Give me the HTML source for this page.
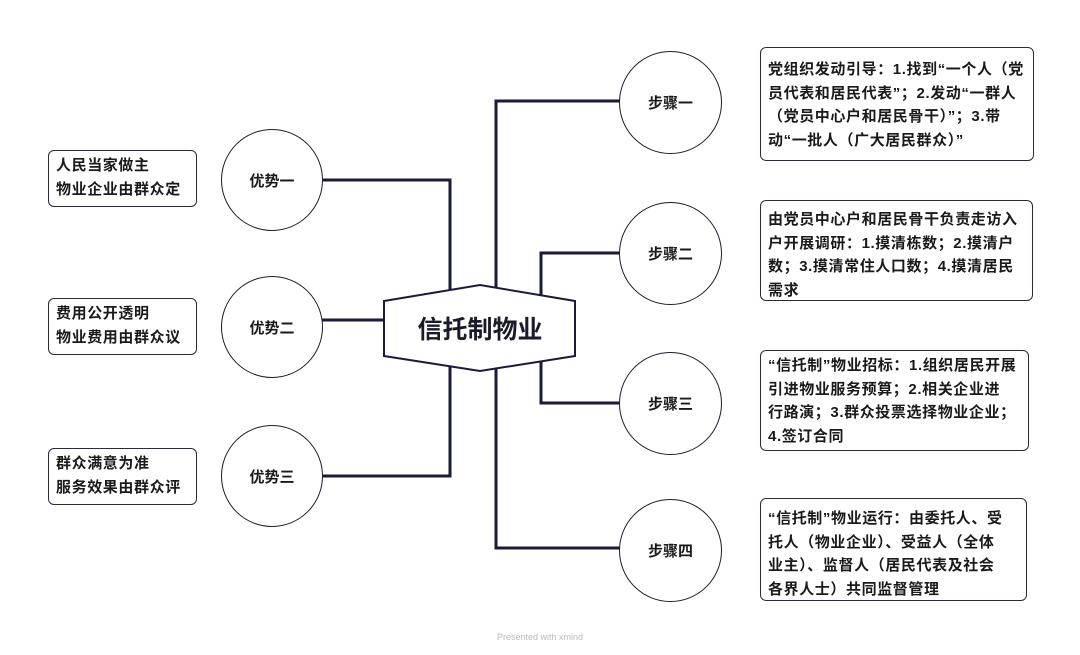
<!DOCTYPE html>
<html><head><meta charset="utf-8"><style>
body{margin:0;width:1080px;height:655px;background:#fff;position:relative;overflow:hidden;font-family:"Liberation Sans","Noto Sans CJK SC",sans-serif;color:#1a1a1a}
.c{position:absolute;border:1.5px solid #1c1c2e;border-radius:50%;background:#fff;box-sizing:border-box;display:flex;align-items:center;justify-content:center;font-weight:bold;font-size:15px}
.b{position:absolute;border:1.5px solid #2a2a3a;border-radius:6px;background:#fff;box-sizing:border-box;font-weight:bold;font-size:15px;letter-spacing:0.6px;line-height:23.5px;padding:5px 7px;white-space:nowrap}
</style></head><body>
<svg width="1080" height="655" style="position:absolute;left:0;top:0">
<g stroke="#1a1a3a" stroke-width="3" fill="none">
<polyline points="322,180 450,180 450,476 322,476"/>
<line x1="322" y1="320" x2="385" y2="320"/>
<polyline points="620,101 496,101 496,548 620,548"/>
<polyline points="620,253 541,253 541,403 620,403"/>
</g>
<polygon points="384,301 480,285 575,301 575,356 480,371 384,356" fill="#fff" stroke="#1a1a3a" stroke-width="2"/>
<text x="480" y="338" text-anchor="middle" font-size="25" font-weight="bold" fill="#1a1a2a" font-family="Liberation Sans,Noto Sans CJK SC,sans-serif">信托制物业</text>
<text x="540" y="640" text-anchor="middle" font-size="9" fill="#bbb" font-family="Liberation Sans,sans-serif">Presented with xmind</text>
</svg>
<div class="c" style="left:221px;top:129px;width:102px;height:102px">优势一</div>
<div class="c" style="left:221px;top:276px;width:102px;height:102px">优势二</div>
<div class="c" style="left:221px;top:425px;width:102px;height:102px">优势三</div>
<div class="c" style="left:619px;top:51px;width:103px;height:103px">步骤一</div>
<div class="c" style="left:619px;top:202px;width:103px;height:103px">步骤二</div>
<div class="c" style="left:619px;top:352px;width:103px;height:103px">步骤三</div>
<div class="c" style="left:619px;top:499px;width:103px;height:103px">步骤四</div>
<div class="b" style="left:48px;top:150px;width:149px;height:57px;padding:3px 7px">人民当家做主<br>物业企业由群众定</div>
<div class="b" style="left:48px;top:298px;width:149px;height:57px;padding:3px 7px">费用公开透明<br>物业费用由群众议</div>
<div class="b" style="left:48px;top:448px;width:149px;height:57px;padding:3px 7px">群众满意为准<br>服务效果由群众评</div>
<div class="b" style="left:760px;top:47px;width:274px;height:114px;padding:10px 7px">党组织发动引导：1.找到“一个人（党<br>员代表和居民代表”；2.发动“一群人<br>（党员中心户和居民骨干）”；3.带<br>动“一批人（广大居民群众）”</div>
<div class="b" style="left:760px;top:200px;width:273px;height:101px;padding:7px 7px">由党员中心户和居民骨干负责走访入<br>户开展调研：1.摸清栋数；2.摸清户<br>数；3.摸清常住人口数；4.摸清居民<br>需求</div>
<div class="b" style="left:760px;top:350px;width:269px;height:101px;padding:3px 7px">“信托制”物业招标：1.组织居民开展<br>引进物业服务预算；2.相关企业进<br>行路演；3.群众投票选择物业企业；<br>4.签订合同</div>
<div class="b" style="left:760px;top:498px;width:267px;height:103px;padding:8px 7px">“信托制”物业运行：由委托人、受<br>托人（物业企业）、受益人（全体<br>业主）、监督人（居民代表及社会<br>各界人士）共同监督管理</div>
</body></html>
